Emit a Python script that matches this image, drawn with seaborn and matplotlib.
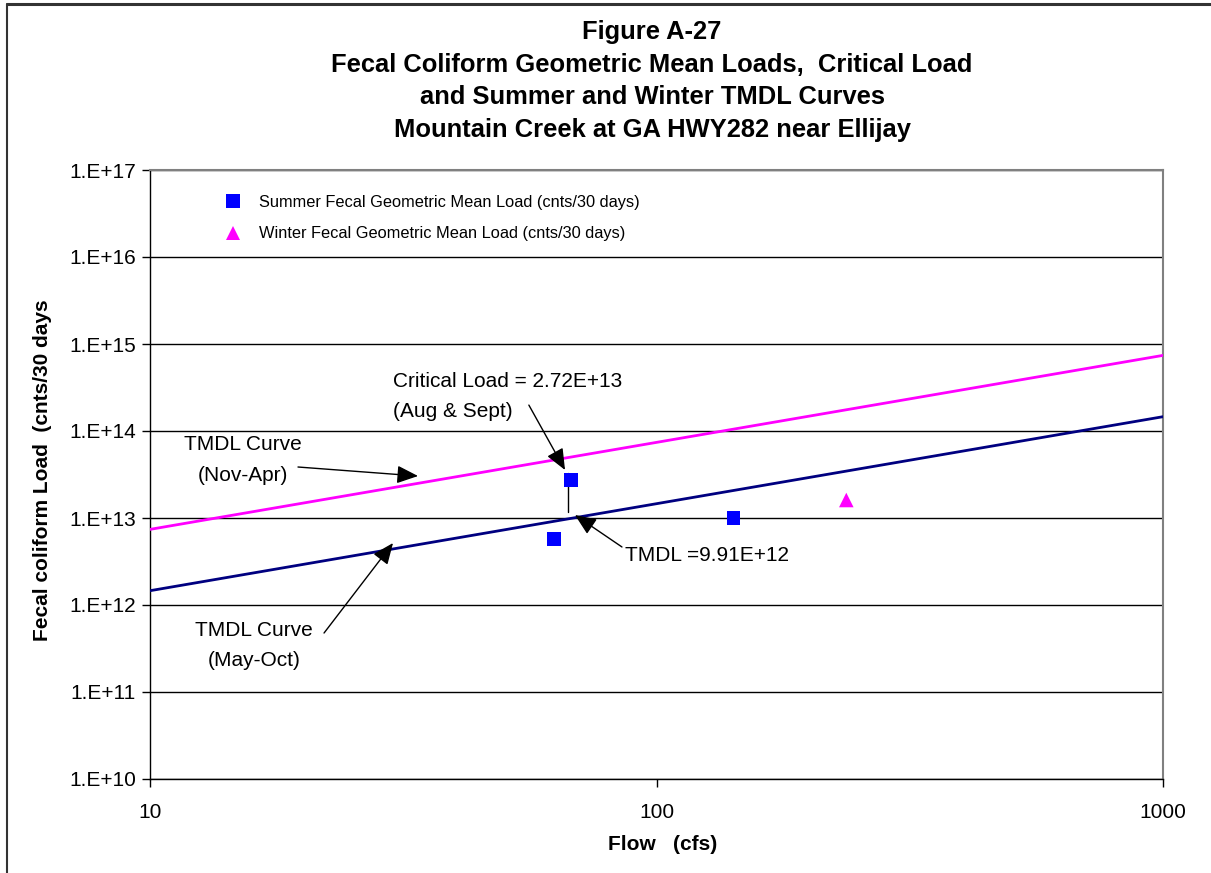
import numpy as np
import pandas as pd
import matplotlib
matplotlib.use("Agg")
import matplotlib.pyplot as plt
from matplotlib.lines import Line2D
from matplotlib.ticker import FixedLocator, FuncFormatter, NullLocator
import seaborn as sns

# Observed geometric mean loads
summer_flow = [62.8, 67.8, 142.0]
summer_load = [5.74e12, 2.72e13, 1.0e13]
winter_flow = [237.0]
winter_load = [1.61e13]

# TMDL curves (load proportional to flow)
curve_flow = [10.0, 1000.0]
summer_tmdl = [1.46e12, 1.46e14]
winter_tmdl = [7.4e12, 7.4e14]

# Critical condition
critical_flow = 67.8
critical_load = 2.72e13
critical_tmdl = 9.91e12

y_ticks = [1e10, 1e11, 1e12, 1e13, 1e14, 1e15, 1e16, 1e17]
x_ticks = [10, 100, 1000]

title_lines = [
    "Figure A-27",
    "Fecal Coliform Geometric Mean Loads,  Critical Load",
    "and Summer and Winter TMDL Curves",
    "Mountain Creek at GA HWY282 near Ellijay",
]
summer_label = "Summer Fecal Geometric Mean Load (cnts/30 days)"
winter_label = "Winter Fecal Geometric Mean Load (cnts/30 days)"

sns.set_style("white")
plt.rcParams["font.family"] = ["Liberation Sans", "DejaVu Sans"]
plt.rcParams["text.color"] = "black"
plt.rcParams["axes.labelcolor"] = "black"
plt.rcParams["xtick.color"] = "black"
plt.rcParams["ytick.color"] = "black"

W, H = 1211, 873
fig = plt.figure(figsize=(W / 100, H / 100), dpi=100)
fig.patch.set_facecolor("white")
ax = fig.add_axes([150 / W, 1 - 779 / H, 1013 / W, 609 / H])

curves = pd.DataFrame({"flow": curve_flow, "summer": summer_tmdl, "winter": winter_tmdl})
sns.lineplot(data=curves, x="flow", y="winter", color="#FF00FF", lw=2.0, ax=ax, zorder=3)
sns.lineplot(data=curves, x="flow", y="summer", color="#000080", lw=2.0, ax=ax, zorder=3)

# connector from critical load down to the summer TMDL
ax.plot([0.4126, 0.4126], [0.5025, 0.4384], transform=ax.transAxes,
        color="black", lw=1.0, zorder=3)

summer_df = pd.DataFrame({"flow": summer_flow, "load": summer_load})
winter_df = pd.DataFrame({"flow": winter_flow, "load": winter_load})
sns.scatterplot(data=summer_df, x="flow", y="load", marker="s", s=95,
                color="#0000FF", edgecolor="none", ax=ax, zorder=4)
sns.scatterplot(data=winter_df, x="flow", y="load", marker="^", s=110,
                color="#FF00FF", edgecolor="none", ax=ax, zorder=4)

ax.set_xscale("log")
ax.set_yscale("log")
ax.set_xlim(10, 1000)
ax.set_ylim(1e10, 1e17)
ax.xaxis.set_major_locator(FixedLocator(x_ticks))
ax.xaxis.set_major_formatter(FuncFormatter(lambda v, p: f"{int(round(v))}"))
ax.xaxis.set_minor_locator(NullLocator())
ax.yaxis.set_major_locator(FixedLocator(y_ticks))
ax.yaxis.set_major_formatter(FuncFormatter(lambda v, p: f"1.E+{int(round(np.log10(v)))}"))
ax.yaxis.set_minor_locator(NullLocator())
ax.set_xlabel("")
ax.set_ylabel("")

ax.yaxis.grid(True, color="black", lw=1.0)
ax.xaxis.grid(False)
ax.set_axisbelow(True)

for side in ["left", "bottom"]:
    ax.spines[side].set_color("black")
    ax.spines[side].set_linewidth(1.0)
for side in ["top", "right"]:
    ax.spines[side].set_color("#808080")
    ax.spines[side].set_linewidth(1.5)

ax.tick_params(axis="both", which="major", direction="out", length=6, width=1,
               color="black", labelsize=15, labelcolor="black")
ax.tick_params(axis="y", pad=4, left=True)
ax.tick_params(axis="x", pad=11, bottom=True)

# legend
handles = [
    Line2D([], [], marker="s", ls="none", color="#0000FF", markersize=9.5, markeredgewidth=0),
    Line2D([], [], marker="^", ls="none", color="#FF00FF", markersize=10.5, markeredgewidth=0),
]
ax.legend(handles, [summer_label, winter_label], loc="upper left",
          bbox_to_anchor=(226 / W, 1 - 195 / H), bbox_transform=fig.transFigure,
          frameon=False, fontsize=11.8, handlelength=0.9, handletextpad=1.1,
          labelspacing=1.0, borderpad=0, borderaxespad=0)

# annotations
arrow = dict(arrowstyle="-|>,head_length=1.3,head_width=0.55", color="black",
             lw=1.0, shrinkA=0, shrinkB=0, mutation_scale=10)
txt = dict(fontsize=15, color="black", transform=ax.transAxes, linespacing=1.75)

ax.text(0.240, 0.628, "Critical Load = 2.72E+13\n(Aug & Sept)", ha="left", va="center", **txt)
ax.annotate("", xy=(0.4097, 0.5074), xytext=(0.374, 0.614),
            xycoords="axes fraction", textcoords="axes fraction", arrowprops=arrow)

ax.text(0.0918, 0.524, "TMDL Curve\n(Nov-Apr)", ha="center", va="center",
        multialignment="center", **txt)
ax.annotate("", xy=(0.2646, 0.4975), xytext=(0.1461, 0.5123),
            xycoords="axes fraction", textcoords="axes fraction", arrowprops=arrow)

ax.text(0.1027, 0.219, "TMDL Curve\n(May-Oct)", ha="center", va="center",
        multialignment="center", **txt)
ax.annotate("", xy=(0.2399, 0.3875), xytext=(0.1718, 0.2397),
            xycoords="axes fraction", textcoords="axes fraction", arrowprops=arrow)

ax.text(0.4689, 0.3678, "TMDL =9.91E+12", ha="left", va="center", **txt)
ax.annotate("", xy=(0.4195, 0.4335), xytext=(0.4659, 0.381),
            xycoords="axes fraction", textcoords="axes fraction", arrowprops=arrow)

# titles and axis labels
for i, line in enumerate(title_lines):
    fig.text(652 / W, 1 - (32 + 32.7 * i) / H, line, ha="center", va="center",
             fontsize=18.4, fontweight="bold", color="black")
fig.text(663 / W, 1 - 845 / H, "Flow   (cfs)", ha="center", va="center",
         fontsize=15, fontweight="bold", color="black")
fig.text(43 / W, 1 - 470 / H, "Fecal coliform Load  (cnts/30 days", ha="center",
         va="center", rotation=90, fontsize=15, fontweight="bold", color="black")

# outer chart border
fig.add_artist(Line2D([7 / W, 1.0], [1 - 4 / H, 1 - 4 / H], transform=fig.transFigure,
                      color="#333333", lw=2.2))
fig.add_artist(Line2D([7 / W, 7 / W], [0.0, 1 - 4 / H], transform=fig.transFigure,
                      color="#333333", lw=1.5))

fig.savefig("out.png", dpi=100, facecolor="white")
